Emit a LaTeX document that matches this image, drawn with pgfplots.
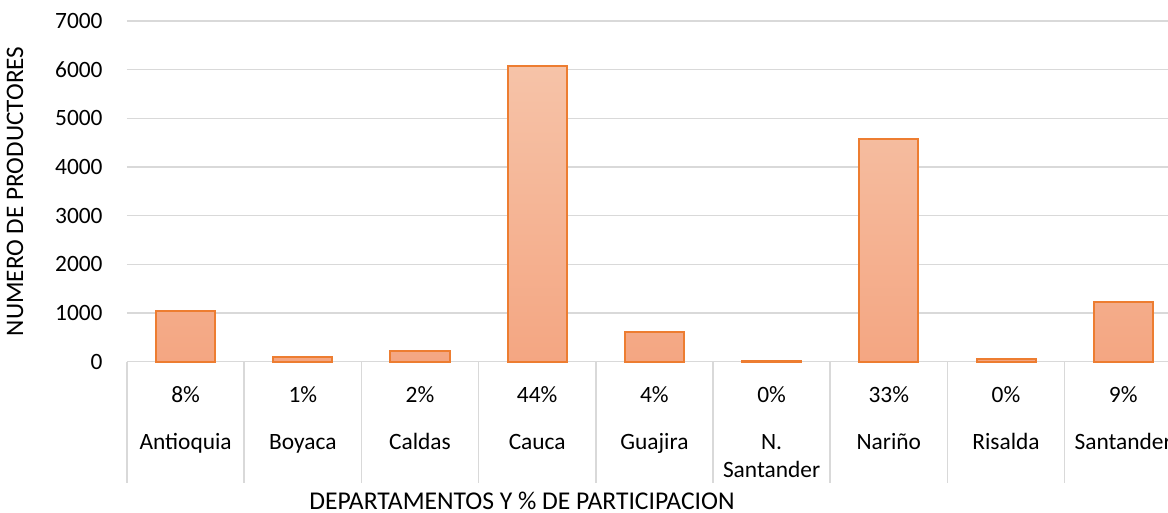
\documentclass[border=0pt]{standalone}
\usepackage{fontspec}
\setmainfont{Carlito}
\usepackage{pgfplots}
\pgfplotsset{compat=1.18}
\definecolor{gridgray}{HTML}{D9D9D9}
\definecolor{barEdge}{HTML}{ED7D31}
\definecolor{barTop}{HTML}{F6C3A8}
\definecolor{barBot}{HTML}{F4A682}
\begin{document}
\begin{tikzpicture}[font=\fontsize{11.7}{14}\selectfont]
\begin{axis}[
  scale only axis,
  width=527.4pt, height=170.35pt,
  xmin=-0.5, xmax=8.5, ymin=0, ymax=7000,
  ybar, bar width=29.5pt,
  ytick={0,1000,...,7000},
  xtick={0,...,8},
  xticklabels={
    {8\%\\[9.3pt]Antioquia},
    {1\%\\[9.3pt]Boyaca},
    {2\%\\[9.3pt]Caldas},
    {44\%\\[9.3pt]Cauca},
    {4\%\\[9.3pt]Guajira},
    {0\%\\[9.3pt]N.\\Santander},
    {33\%\\[9.3pt]Nariño},
    {0\%\\[9.3pt]Risalda},
    {9\%\\[9.3pt]Santander}},
  axis line style={draw=none},
  major tick length=0pt,
  ymajorgrids,
  grid style={gridgray, line width=0.75pt},
  clip=false,
  /pgf/number format/assume math mode=true,
  scaled y ticks=false,
  yticklabel style={anchor=east, inner sep=0pt, xshift=-12pt, /pgf/number format/set thousands separator={}},
  xticklabel style={anchor=north, inner sep=0pt, yshift=-12.3pt, align=center},
  ylabel={NUMERO DE PRODUCTORES},
  ylabel style={at={(axis description cs:-0.1062,0.5)}, anchor=center, font=\fontsize{12.6}{15}\selectfont},
  xlabel={DEPARTAMENTOS Y \% DE PARTICIPACION},
  xlabel style={at={(axis description cs:0.3745,-0.408)}, anchor=center, font=\fontsize{12.8}{15}\selectfont},
]
\addplot[draw=barEdge, line width=1pt, top color=barTop, bottom color=barBot]
  coordinates {(0,1050) (1,100) (2,230) (3,6080) (4,600) (5,15) (6,4580) (7,55) (8,1235)};
\pgfplotsinvokeforeach{-0.5,0.5,1.5,2.5,3.5,4.5,5.5,6.5,7.5,8.5}{
  \draw[gridgray, line width=0.75pt] (axis cs:#1,0) -- ([yshift=-60.8pt]axis cs:#1,0);
}
\end{axis}
\pgfresetboundingbox
\path[use as bounding box] (-63.5pt,-75.65pt) rectangle (520.5pt,180.85pt);
\end{tikzpicture}
\end{document}
